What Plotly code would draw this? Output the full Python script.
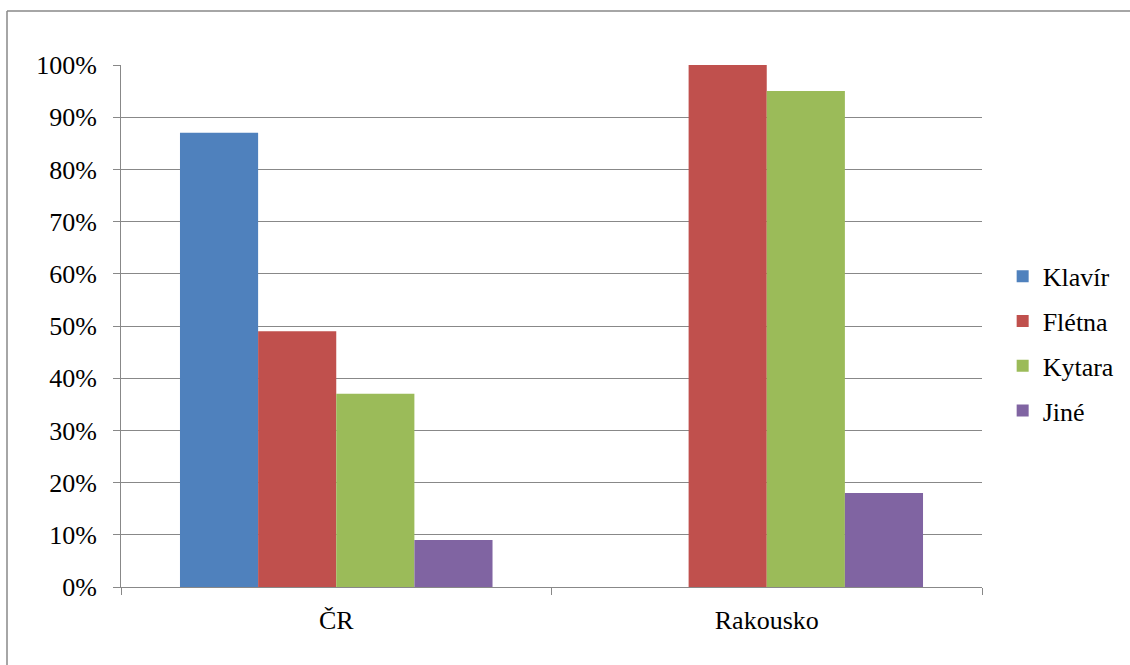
import plotly.graph_objects as go

# Share of respondents playing each instrument, by country
countries = ["ČR", "Rakousko"]
instruments = ["Klavír", "Flétna", "Kytara", "Jiné"]
klavir = [0.87, None]
fletna = [0.49, 1.00]
kytara = [0.37, 0.95]
jine = [0.09, 0.18]
y_ticks = [0, 0.1, 0.2, 0.3, 0.4, 0.5, 0.6, 0.7, 0.8, 0.9, 1.0]

colors = ["#4F81BD", "#C0504D", "#9BBB59", "#8064A2"]
series = [klavir, fletna, kytara, jine]

FONT = "Times New Roman"
GRID = "#888888"
SIZE = 26

fig = go.Figure()
for name, vals, col in zip(instruments, series, colors):
    fig.add_trace(go.Bar(x=countries, y=vals, name=name, legendgroup=name,
                         marker=dict(color=col, line=dict(width=0))))

# outer chart frame: top and left edges (right/bottom fall outside the page)
frame = dict(type="line", xref="paper", yref="paper",
             line=dict(color=GRID, width=1.5), layer="below")

fig.update_layout(
    width=1130, height=665,
    margin=dict(l=121, r=148, t=65, b=78, autoexpand=False),
    paper_bgcolor="white", plot_bgcolor="white",
    template="none",
    font=dict(family=FONT, size=SIZE, color="black"),
    barmode="group", bargap=0.274, bargroupgap=0,
    showlegend=True,
    legend=dict(x=1.024, y=0.466, xanchor="left", yanchor="middle",
                font=dict(family=FONT, size=SIZE, color="black"),
                itemwidth=30, tracegroupgap=8),
    xaxis=dict(type="category", tickson="boundaries", ticks="outside",
               ticklen=7, tickcolor=GRID, tickwidth=1,
               showline=True, linecolor=GRID, linewidth=1,
               showgrid=False, ticklabelstandoff=10,
               tickfont=dict(family=FONT, size=SIZE, color="black")),
    yaxis=dict(range=[0, 1], tickvals=y_ticks, tickformat=".0%",
               ticks="outside", ticklen=7, tickcolor=GRID, tickwidth=1,
               showline=True, linecolor=GRID, linewidth=1,
               showgrid=True, gridcolor=GRID, gridwidth=1,
               zeroline=False, ticklabelstandoff=11,
               tickfont=dict(family=FONT, size=SIZE, color="black")),
    shapes=[
        dict(frame, x0=-114/861, x1=1.5, y0=1 + 54/522, y1=1 + 54/522),
        dict(frame, x0=-114/861, x1=-114/861, y0=-0.3, y1=1 + 54/522),
    ],
)

fig.write_html("out.html")
